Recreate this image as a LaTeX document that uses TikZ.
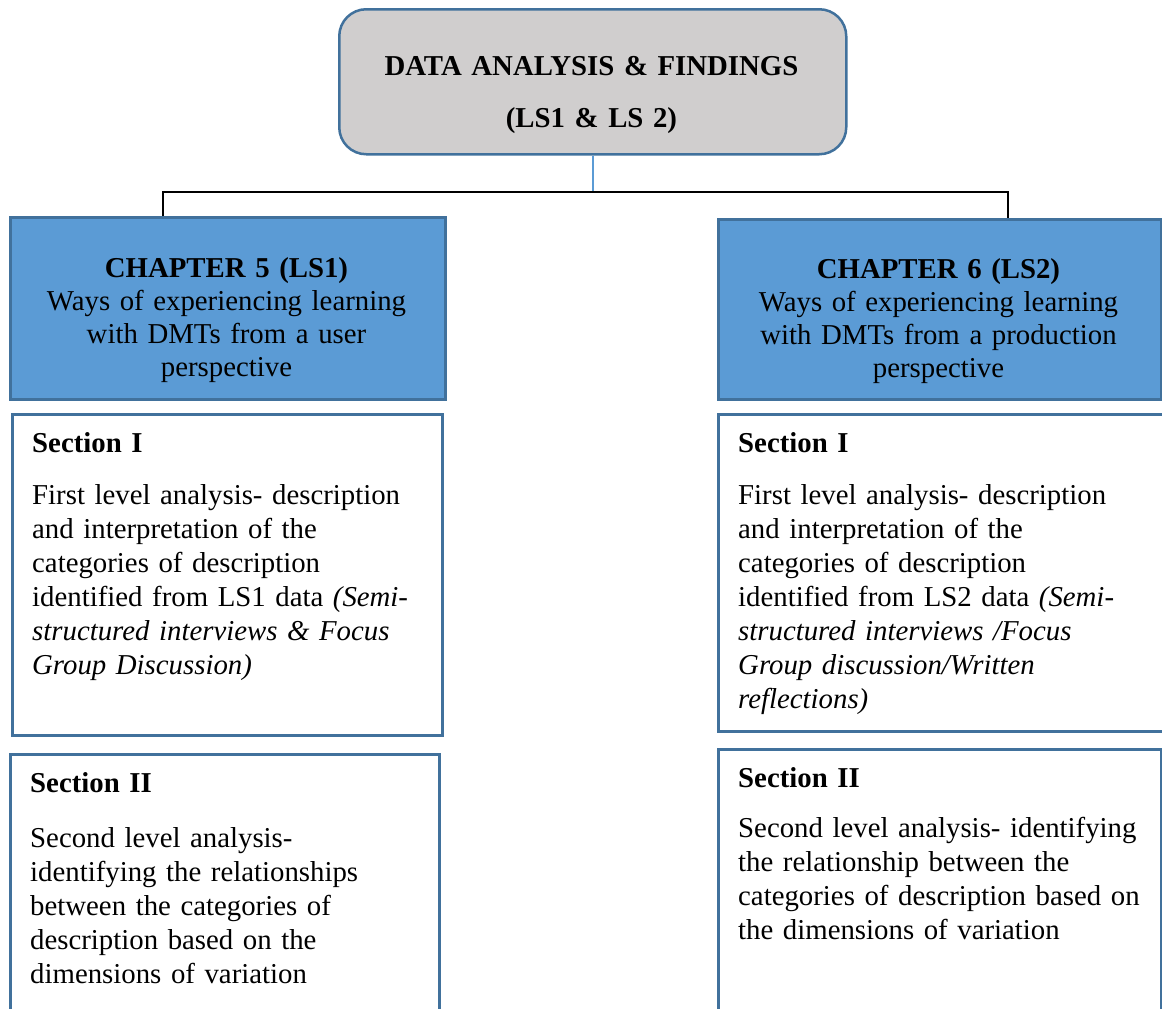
\documentclass[tikz,border=0pt]{standalone}
\usepackage{fontspec}
\setmainfont{Liberation Serif}

\definecolor{greyfill}{HTML}{D0CECE}
\definecolor{chapfill}{HTML}{5B9BD5}
\definecolor{edgeblue}{HTML}{41719C}
\definecolor{stemblue}{HTML}{5B9BD5}

\tikzset{
  box/.style={draw=edgeblue, line width=2.5pt, inner sep=0pt, anchor=north west, rectangle},
  titlebox/.style={box, fill=greyfill, rounded corners=27pt},
  chapbox/.style={box, fill=chapfill},
  secbox/.style={box, fill=white},
  txt/.style={inner sep=0pt},
  bodytxt/.style={txt, anchor=base west, text width=425pt, align=left,
                  font=\fontsize{28.8}{34}\selectfont},
  centertxt/.style={txt, anchor=base, text width=440pt, align=center,
                    font=\fontsize{28.8}{33}\selectfont},
  bus/.style={line width=2pt, black},
  stem/.style={line width=1.5pt, stemblue}
}

\begin{document}
\begin{tikzpicture}[x=1pt, y=-1pt]
  \useasboundingbox (0,0) rectangle (1162,1009);

  % top title box
  \node[titlebox, minimum width=507pt, minimum height=145pt] (top) at (338,8) {};
  \node[centertxt] (toptxt) at (591.5,75)
    {\bfseries DATA ANALYSIS \& FINDINGS\\[19pt] (LS1 \& LS 2)};

  % chapter boxes
  \node[chapbox, minimum width=435pt, minimum height=182pt] (ch5) at (9,216) {};
  \node[centertxt] (ch5txt) at (226.5,277)
    {\textbf{CHAPTER 5 (LS1)}\\ Ways of experiencing learning\\ with DMTs from a user\\ perspective};

  \node[chapbox, minimum width=443pt, minimum height=180pt] (ch6) at (717,218) {};
  \node[centertxt] (ch6txt) at (938.5,278)
    {\textbf{CHAPTER 6 (LS2)}\\ Ways of experiencing learning\\ with DMTs from a production\\ perspective};

  % section boxes, left column
  \node[secbox, minimum width=430pt, minimum height=321pt] (l1) at (11,413) {};
  \node[bodytxt] (l1txt) at (32,452)
    {\textbf{Section I}\\[18pt]
     First level analysis- description\\
     and interpretation of the\\
     categories of description\\
     identified from LS1 data \textit{(Semi-}\\
     \textit{structured interviews \& Focus}\\
     \textit{Group Discussion)}};

  \node[secbox, minimum width=429pt, minimum height=290pt] (l2) at (9,753) {};
  \node[bodytxt] (l2txt) at (30,792)
    {\textbf{Section II}\\[21pt]
     Second level analysis-\\
     identifying the relationships\\
     between the categories of\\
     description based on the\\
     dimensions of variation};

  % section boxes, right column
  \node[secbox, minimum width=470pt, minimum height=317pt] (r1) at (717,413) {};
  \node[bodytxt] (r1txt) at (738,452)
    {\textbf{Section I}\\[18pt]
     First level analysis- description\\
     and interpretation of the\\
     categories of description\\
     identified from LS2 data \textit{(Semi-}\\
     \textit{structured interviews /Focus}\\
     \textit{Group discussion/Written}\\
     \textit{reflections)}};

  \node[secbox, minimum width=443pt, minimum height=290pt] (r2) at (717,748) {};
  \node[bodytxt] (r2txt) at (738,787)
    {\textbf{Section II}\\[16pt]
     Second level analysis- identifying\\
     the relationship between the\\
     categories of description based on\\
     the dimensions of variation};

  % connectors
  \coordinate (jL) at (163,192);
  \coordinate (jR) at (1008,192);
  \draw[stem] (top.south) -- (top.south |- jL);
  \draw[bus] (jL |- ch5.north) -- (jL) -- (jR) -- (jR |- ch6.north);
\end{tikzpicture}
\end{document}
